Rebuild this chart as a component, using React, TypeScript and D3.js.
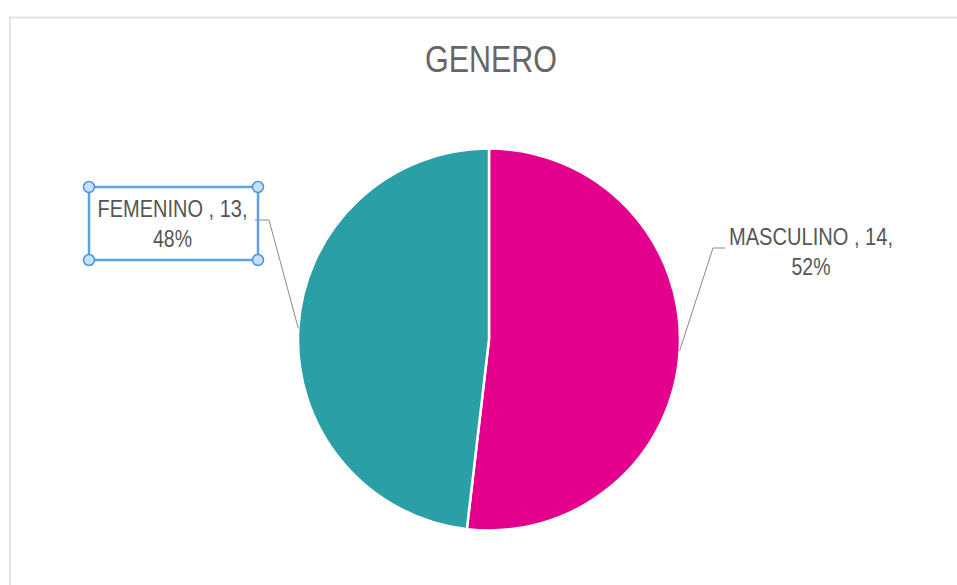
import React from "react";
import * as d3 from "d3";

const categories = ["MASCULINO", "FEMENINO"];
const values = [14, 13];
const percents = ["52%", "48%"];
const colors = ["#E3008C", "#2A9FA6"];
const title = "GENERO";

const W = 957;
const H = 585;
const cx = 489;
const cy = 339.5;
const R = 191;

export default function App() {
  const pie = d3.pie<number>().sort(null).value((d) => d)(values);
  const arc = d3.arc<d3.PieArcDatum<number>>().innerRadius(0).outerRadius(R);
  const edge = d3.arc<d3.PieArcDatum<number>>().innerRadius(R).outerRadius(R);

  const layout = [
    { elbow: [713, 248], end: [725, 248], tx: 811, ty: 245, len1: 164, box: false },
    { elbow: [269, 220], end: [255, 220], tx: 172.5, ty: 217, len1: 150, box: true },
  ];

  const font = "'Liberation Sans Narrow', 'Liberation Sans', Arial, sans-serif";

  return (
    <svg width={W} height={H} style={{ position: "absolute", left: 0, top: 0, background: "#fff" }}>
      <rect x={10} y={17.5} width={W + 20} height={H + 20} fill="#fff" stroke="#e2e2e2" strokeWidth={2} />
      <text x={491} y={72} textAnchor="middle" fontFamily={font} fontSize={37} fill="#666"
        textLength={132} lengthAdjust="spacingAndGlyphs">{title}</text>
      <g transform={`translate(${cx},${cy})`}>
        {pie.map((p, i) => (
          <path key={i} d={arc(p) || ""} fill={colors[i]} stroke="#fff" strokeWidth={2.5} />
        ))}
      </g>
      {pie.map((p, i) => {
        const L = layout[i];
        const [ex, ey] = edge.centroid(p);
        const sx = cx + ex;
        const sy = cy + ey;
        const l1 = `${categories[i]} , ${values[i]},`;
        return (
          <g key={i}>
            <polyline points={`${sx},${sy} ${L.elbow[0]},${L.elbow[1]} ${L.end[0]},${L.end[1]}`}
              fill="none" stroke="#8a8a8a" strokeWidth={1} />
            {L.box && (
              <g>
                <rect x={89} y={187} width={169} height={73} fill="none" stroke="#5aa2e8" strokeWidth={2.5} />
                {[[89, 187], [258, 187], [89, 260], [258, 260]].map(([hx, hy], k) => (
                  <circle key={k} cx={hx} cy={hy} r={5.5} fill="#c9e1f8" stroke="#4a94e4" strokeWidth={1.5} />
                ))}
              </g>
            )}
            <text x={L.tx} y={L.ty} textAnchor="middle" fontFamily={font} fontSize={24} fill="#555"
              textLength={L.len1} lengthAdjust="spacingAndGlyphs">{l1}</text>
            <text x={L.tx} y={L.ty + 30} textAnchor="middle" fontFamily={font} fontSize={24} fill="#555"
              textLength={39} lengthAdjust="spacingAndGlyphs">{percents[i]}</text>
          </g>
        );
      })}
    </svg>
  );
}
